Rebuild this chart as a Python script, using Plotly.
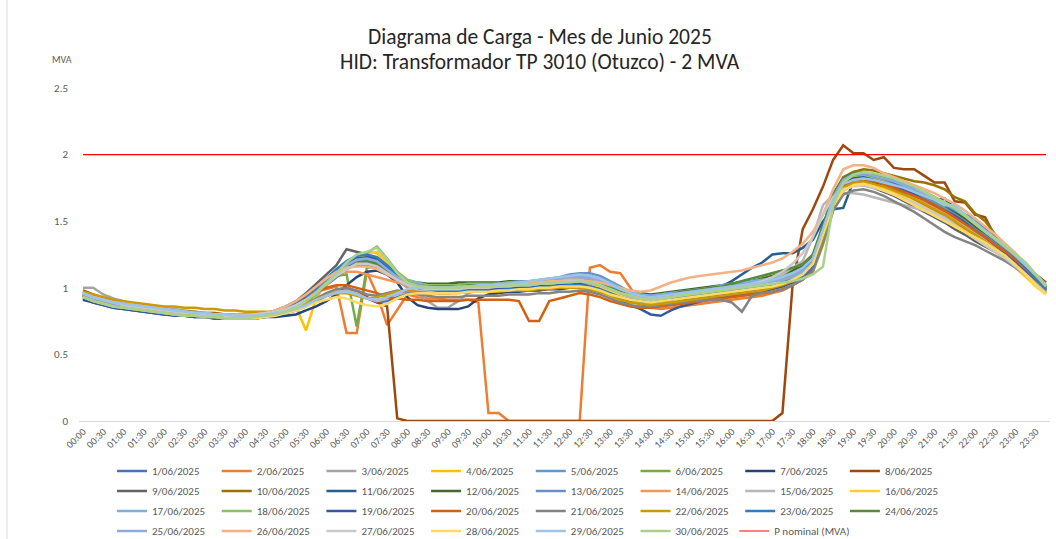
import plotly.graph_objects as go

# ---- categories (15-min steps) ----
times = [f"{h:02d}:{m:02d}" for h in range(24) for m in (0, 15, 30, 45)]
tick_labels = [t for t in times if t.endswith(":00") or t.endswith(":30")]

dates = [f"{d}/06/2025" for d in range(1, 31)]

colors = ["#4472C4", "#ED7D31", "#A5A5A5", "#FFC000", "#5B9BD5", "#70AD47",
          "#264478", "#9E480E", "#636363", "#997300", "#255E91", "#43682B",
          "#698ED0", "#F1975A", "#B7B7B7", "#FFCD33", "#7CAFDD", "#8CC168",
          "#335AA1", "#D26012", "#848484", "#CC9A00", "#327DC2", "#598A39",
          "#8FAADC", "#F4B183", "#C9C9C9", "#FFD966", "#9DC3E6", "#A9D18E"]

# ---- series values (MVA) ----
d01 = [0.92,0.90,0.88,0.86,0.85,0.84,0.83,0.82, 0.81,0.80,0.79,0.79,0.78,0.78,0.77,0.77,
       0.77,0.78,0.79,0.80,0.81,0.83,0.86,0.90, 0.94,0.97,0.98,0.96,0.92,0.89,0.90,0.93,
       0.96,0.97,0.97,0.96,0.96,0.97,0.97,0.98, 0.98,0.97,0.98,0.99,0.99,1.00,1.00,1.01,
       1.02,1.02,1.01,0.99,0.96,0.93,0.91,0.89, 0.88,0.89,0.90,0.92,0.93,0.94,0.95,0.96,
       0.97,0.98,0.99,1.00,1.01,1.03,1.06,1.10, 1.20,1.45,1.68,1.79,1.83,1.84,1.82,1.79,
       1.76,1.72,1.68,1.65,1.61,1.57,1.53,1.48, 1.43,1.37,1.32,1.26,1.20,1.13,1.06,0.99]
d02 = [0.96,0.93,0.90,0.88,0.87,0.86,0.85,0.84, 0.83,0.82,0.81,0.80,0.80,0.79,0.79,0.78,
       0.78,0.79,0.80,0.82,0.85,0.89,0.93,0.97, 0.99,1.01,0.66,0.66,1.12,0.95,0.72,0.84,
       0.95,0.93,0.92,0.92,0.91,0.91,0.91,0.89, 0.06,0.06,0.00,0.00,0.00,0.00,0.00,0.00,
       0.00,0.00,1.15,1.17,1.12,1.11,1.00,0.88, 0.85,0.84,0.85,0.86,0.87,0.88,0.89,0.90,
       0.91,0.92,0.93,0.94,0.96,0.98,1.02,1.08, 1.18,1.42,1.66,1.79,1.83,1.83,1.81,1.79,
       1.76,1.73,1.70,1.66,1.62,1.58,1.54,1.49, 1.44,1.39,1.33,1.27,1.21,1.14,1.07,0.99]
d03 = [1.00,1.00,0.95,0.92,0.90,0.88,0.87,0.86, 0.85,0.84,0.83,0.82,0.81,0.81,0.80,0.80,
       0.80,0.80,0.81,0.82,0.84,0.87,0.91,0.97, 1.04,1.10,1.15,1.18,1.19,1.17,1.12,1.06,
       1.00,0.97,0.90,0.85,0.85,0.90,0.96,0.98, 0.98,0.99,1.00,1.00,1.01,1.01,1.02,1.02,
       1.03,1.03,1.02,1.00,0.97,0.94,0.92,0.90, 0.89,0.90,0.91,0.92,0.94,0.95,0.96,0.97,
       0.98,0.99,1.00,1.01,1.02,1.04,1.06,1.09, 1.15,1.36,1.60,1.74,1.79,1.80,1.78,1.76,
       1.73,1.70,1.67,1.63,1.59,1.55,1.51,1.46, 1.41,1.36,1.31,1.25,1.19,1.12,1.05,0.98]
d04 = [0.94,0.91,0.89,0.87,0.86,0.85,0.84,0.83, 0.82,0.81,0.80,0.80,0.79,0.79,0.78,0.78,
       0.78,0.79,0.80,0.82,0.84,0.86,0.68,0.92, 1.04,1.12,1.18,1.24,1.27,1.26,1.18,1.10,
       1.04,1.00,0.98,0.97,0.97,0.97,0.98,0.98, 0.98,0.99,0.99,1.00,1.00,1.01,1.01,1.02,
       1.03,1.03,1.02,1.01,0.98,0.95,0.92,0.90, 0.89,0.90,0.91,0.93,0.94,0.95,0.96,0.97,
       0.98,0.99,1.00,1.01,1.02,1.03,1.05,1.08, 1.14,1.35,1.60,1.75,1.80,1.81,1.79,1.77,
       1.74,1.70,1.66,1.62,1.58,1.53,1.48,1.43, 1.38,1.33,1.28,1.22,1.16,1.10,1.03,0.96]
d05 = [0.97,0.94,0.91,0.89,0.88,0.87,0.86,0.85, 0.84,0.83,0.82,0.81,0.81,0.80,0.80,0.79,
       0.79,0.80,0.80,0.81,0.83,0.86,0.90,0.95, 1.02,1.09,1.16,1.20,1.21,1.19,1.13,1.07,
       1.03,1.01,1.00,0.99,0.99,1.00,1.00,1.01, 1.01,1.02,1.02,1.03,1.03,1.04,1.05,1.06,
       1.07,1.08,1.07,1.05,1.02,0.98,0.95,0.93, 0.92,0.93,0.94,0.96,0.97,0.98,0.99,1.00,
       1.01,1.02,1.03,1.04,1.05,1.06,1.08,1.11, 1.18,1.42,1.68,1.82,1.86,1.86,1.84,1.82,
       1.79,1.76,1.73,1.69,1.66,1.62,1.57,1.52, 1.46,1.40,1.35,1.29,1.23,1.16,1.09,1.01]
d06 = [0.94,0.91,0.89,0.87,0.86,0.85,0.84,0.83, 0.82,0.81,0.80,0.79,0.79,0.78,0.78,0.77,
       0.77,0.78,0.79,0.81,0.83,0.86,0.90,0.96, 1.03,1.09,1.10,0.71,1.15,1.16,1.12,1.07,
       1.03,1.02,1.01,1.01,1.01,1.01,1.02,1.02, 1.02,1.02,1.03,1.03,1.03,1.04,1.04,1.04,
       1.05,1.05,1.04,1.03,1.01,0.98,0.96,0.94, 0.93,0.94,0.95,0.97,0.98,0.99,1.00,1.01,
       1.03,1.04,1.05,1.06,1.08,1.10,1.12,1.15, 1.22,1.44,1.68,1.80,1.84,1.85,1.83,1.81,
       1.78,1.75,1.72,1.68,1.64,1.60,1.56,1.51, 1.46,1.40,1.34,1.28,1.22,1.15,1.08,1.01]
d07 = [0.91,0.89,0.87,0.85,0.84,0.83,0.82,0.81, 0.80,0.80,0.79,0.78,0.78,0.77,0.77,0.77,
       0.77,0.77,0.78,0.78,0.79,0.80,0.83,0.86, 0.90,0.95,1.02,1.08,1.12,1.13,1.10,1.04,
       0.93,0.87,0.85,0.84,0.84,0.84,0.86,0.92, 0.95,0.96,0.97,0.97,0.98,0.98,0.99,0.99,
       1.00,1.00,0.99,0.97,0.95,0.92,0.90,0.88, 0.86,0.87,0.88,0.90,0.91,0.92,0.93,0.94,
       0.95,0.96,0.97,0.98,1.00,1.02,1.05,1.09, 1.17,1.40,1.65,1.77,1.81,1.81,1.79,1.77,
       1.74,1.71,1.67,1.63,1.59,1.55,1.50,1.45, 1.40,1.35,1.30,1.24,1.18,1.11,1.04,0.97]
d08 = [0.98,0.95,0.92,0.89,0.87,0.86,0.85,0.84, 0.83,0.82,0.81,0.80,0.80,0.79,0.79,0.78,
       0.78,0.78,0.79,0.80,0.82,0.84,0.87,0.91, 0.94,0.96,0.98,0.97,0.93,0.89,0.86,0.02,
       0.00,0.00,0.00,0.00,0.00,0.00,0.00,0.00, 0.00,0.00,0.00,0.00,0.00,0.00,0.00,0.00,
       0.00,0.00,0.00,0.00,0.00,0.00,0.00,0.00, 0.00,0.00,0.00,0.00,0.00,0.00,0.00,0.00,
       0.00,0.00,0.00,0.00,0.00,0.06,1.02,1.44, 1.59,1.76,1.96,2.07,2.01,2.01,1.96,1.98,
       1.90,1.89,1.89,1.84,1.79,1.79,1.65,1.64, 1.55,1.53,1.38,1.32,1.24,1.17,1.10,1.04]
d09 = [0.95,0.92,0.90,0.88,0.87,0.86,0.85,0.84, 0.83,0.82,0.81,0.81,0.80,0.80,0.79,0.79,
       0.79,0.80,0.81,0.83,0.86,0.90,0.96,1.03, 1.10,1.17,1.29,1.27,1.25,1.18,1.10,1.05,
       1.02,1.00,0.99,0.99,0.98,0.98,0.99,0.99, 0.99,1.00,1.00,1.01,1.01,1.01,1.02,1.02,
       1.03,1.03,1.02,1.00,0.97,0.94,0.92,0.90, 0.89,0.90,0.91,0.92,0.93,0.94,0.95,0.96,
       0.97,0.98,0.99,1.00,1.01,1.03,1.05,1.08, 1.14,1.36,1.60,1.73,1.77,1.77,1.75,1.72,
       1.69,1.65,1.61,1.57,1.53,1.49,1.44,1.40, 1.35,1.31,1.27,1.22,1.17,1.11,1.05,0.98]
d10 = [0.96,0.93,0.91,0.89,0.88,0.87,0.86,0.85, 0.84,0.83,0.82,0.82,0.81,0.81,0.80,0.80,
       0.80,0.80,0.81,0.82,0.84,0.87,0.91,0.96, 1.02,1.08,1.14,1.18,1.19,1.17,1.11,1.06,
       1.02,1.00,0.99,0.99,0.99,0.99,1.00,1.00, 1.00,1.01,1.01,1.02,1.02,1.02,1.03,1.03,
       1.04,1.04,1.03,1.01,0.98,0.96,0.94,0.92, 0.92,0.93,0.94,0.96,0.97,0.98,0.99,1.00,
       1.01,1.02,1.03,1.04,1.06,1.08,1.10,1.13, 1.20,1.45,1.70,1.83,1.87,1.89,1.88,1.86,
       1.84,1.82,1.80,1.79,1.77,1.74,1.68,1.65, 1.56,1.50,1.40,1.32,1.25,1.16,1.08,1.00]
d11 = [0.93,0.90,0.88,0.86,0.85,0.84,0.83,0.82, 0.81,0.80,0.80,0.79,0.79,0.78,0.78,0.78,
       0.78,0.78,0.79,0.81,0.84,0.88,0.93,0.99, 1.06,1.13,1.19,1.23,1.24,1.22,1.16,1.09,
       1.04,1.01,1.00,0.99,0.99,0.99,0.99,1.00, 1.00,1.00,1.01,1.01,1.02,1.02,1.03,1.03,
       1.04,1.04,1.03,1.01,0.98,0.95,0.93,0.91, 0.90,0.91,0.92,0.94,0.95,0.97,0.99,1.01,
       1.05,1.10,1.15,1.19,1.25,1.26,1.26,1.30, 1.36,1.50,1.59,1.60,1.80,1.86,1.85,1.83,
       1.80,1.77,1.73,1.70,1.66,1.67,1.60,1.53, 1.47,1.41,1.35,1.29,1.23,1.16,1.08,1.00]
d12 = [0.95,0.92,0.90,0.88,0.87,0.86,0.85,0.84, 0.83,0.82,0.81,0.80,0.80,0.79,0.79,0.79,
       0.79,0.79,0.80,0.82,0.84,0.87,0.91,0.97, 1.04,1.10,1.15,1.17,1.17,1.15,1.12,1.08,
       1.05,1.04,1.03,1.03,1.03,1.04,1.04,1.04, 1.04,1.04,1.05,1.05,1.05,1.05,1.06,1.06,
       1.06,1.06,1.05,1.04,1.02,0.99,0.97,0.96, 0.95,0.96,0.97,0.98,0.99,1.00,1.01,1.02,
       1.03,1.04,1.05,1.07,1.09,1.11,1.13,1.16, 1.24,1.46,1.70,1.82,1.86,1.86,1.84,1.82,
       1.80,1.77,1.74,1.70,1.66,1.62,1.57,1.52, 1.46,1.40,1.34,1.28,1.22,1.15,1.08,1.01]
d13 = [0.94,0.91,0.89,0.87,0.86,0.85,0.84,0.83, 0.82,0.81,0.80,0.80,0.79,0.79,0.78,0.78,
       0.78,0.79,0.80,0.81,0.83,0.86,0.90,0.95, 1.02,1.08,1.14,1.18,1.19,1.18,1.13,1.07,
       1.03,1.01,1.00,1.00,1.00,1.01,1.01,1.02, 1.02,1.03,1.04,1.05,1.05,1.06,1.07,1.08,
       1.10,1.11,1.11,1.09,1.05,1.01,0.97,0.95, 0.94,0.95,0.96,0.97,0.98,0.99,1.00,1.01,
       1.02,1.03,1.04,1.05,1.06,1.07,1.09,1.12, 1.20,1.42,1.66,1.79,1.83,1.84,1.82,1.80,
       1.77,1.74,1.71,1.67,1.63,1.59,1.55,1.50, 1.44,1.39,1.33,1.27,1.21,1.14,1.07,1.00]
d14 = [0.96,0.93,0.91,0.89,0.87,0.86,0.85,0.84, 0.83,0.82,0.81,0.80,0.80,0.79,0.79,0.79,
       0.79,0.79,0.80,0.82,0.85,0.89,0.94,1.00, 1.06,1.10,1.12,1.12,1.10,1.08,1.06,1.04,
       1.02,1.00,0.99,0.98,0.98,0.98,0.98,0.99, 0.99,1.00,1.00,1.01,1.01,1.02,1.02,1.03,
       1.03,1.03,1.02,1.00,0.97,0.94,0.92,0.90, 0.89,0.90,0.91,0.93,0.94,0.95,0.96,0.97,
       0.98,0.99,1.00,1.01,1.02,1.04,1.07,1.11, 1.19,1.43,1.67,1.79,1.83,1.83,1.81,1.78,
       1.75,1.72,1.68,1.64,1.60,1.56,1.51,1.46, 1.41,1.36,1.30,1.25,1.19,1.12,1.05,0.98]
d15 = [0.97,0.94,0.91,0.89,0.88,0.87,0.86,0.85, 0.84,0.83,0.82,0.81,0.81,0.80,0.80,0.79,
       0.79,0.79,0.80,0.81,0.82,0.84,0.87,0.91, 0.95,0.97,0.98,0.96,0.92,0.90,0.92,0.95,
       0.97,0.98,0.98,0.98,0.97,0.98,0.98,0.99, 0.99,0.99,1.00,1.00,1.00,1.01,1.01,1.02,
       1.03,1.03,1.02,1.00,0.97,0.94,0.92,0.91, 0.90,0.91,0.92,0.93,0.95,0.96,0.97,0.98,
       0.99,1.00,1.01,1.03,1.06,1.10,1.15,1.20, 1.38,1.62,1.70,1.71,1.71,1.70,1.68,1.66,
       1.64,1.62,1.60,1.58,1.56,1.53,1.50,1.46, 1.41,1.36,1.31,1.25,1.19,1.13,1.06,0.99]
d16 = [0.93,0.90,0.88,0.86,0.85,0.84,0.83,0.82, 0.81,0.80,0.79,0.79,0.78,0.78,0.77,0.77,
       0.77,0.78,0.79,0.80,0.82,0.85,0.89,0.95, 1.02,1.10,1.17,1.22,1.25,1.27,1.20,1.12,
       1.05,1.01,0.99,0.98,0.97,0.97,0.97,0.97, 0.97,0.98,0.98,0.99,0.99,1.00,1.00,1.01,
       1.02,1.02,1.01,1.00,0.97,0.94,0.91,0.89, 0.88,0.89,0.90,0.92,0.93,0.94,0.95,0.96,
       0.97,0.98,0.99,1.00,1.01,1.02,1.04,1.07, 1.12,1.32,1.58,1.73,1.78,1.79,1.77,1.75,
       1.72,1.68,1.64,1.60,1.56,1.51,1.46,1.42, 1.37,1.32,1.27,1.21,1.15,1.08,1.01,0.95]
d17 = [0.96,0.93,0.91,0.89,0.88,0.87,0.86,0.85, 0.84,0.83,0.82,0.81,0.81,0.80,0.80,0.79,
       0.79,0.80,0.81,0.82,0.84,0.87,0.91,0.97, 1.04,1.11,1.17,1.21,1.22,1.20,1.15,1.10,
       1.06,1.04,1.02,1.01,1.00,1.00,1.01,1.01, 1.02,1.02,1.03,1.03,1.04,1.05,1.06,1.07,
       1.08,1.09,1.09,1.07,1.04,1.00,0.97,0.95, 0.94,0.95,0.96,0.97,0.98,0.99,1.00,1.02,
       1.03,1.04,1.05,1.06,1.07,1.08,1.10,1.13, 1.18,1.40,1.66,1.80,1.85,1.86,1.85,1.83,
       1.80,1.77,1.74,1.71,1.68,1.64,1.60,1.55, 1.49,1.43,1.37,1.31,1.24,1.17,1.09,1.01]
d18 = [0.94,0.91,0.89,0.87,0.86,0.85,0.84,0.83, 0.82,0.81,0.80,0.79,0.79,0.78,0.78,0.78,
       0.78,0.78,0.79,0.80,0.82,0.85,0.89,0.95, 1.02,1.10,1.18,1.23,1.26,1.31,1.22,1.12,
       1.06,1.03,1.02,1.02,1.02,1.02,1.03,1.03, 1.03,1.03,1.04,1.04,1.04,1.05,1.05,1.05,
       1.06,1.06,1.05,1.03,1.00,0.97,0.95,0.93, 0.92,0.93,0.94,0.96,0.97,0.98,0.99,1.00,
       1.01,1.02,1.03,1.04,1.05,1.06,1.08,1.11, 1.16,1.38,1.64,1.78,1.83,1.84,1.83,1.81,
       1.79,1.76,1.73,1.70,1.67,1.63,1.59,1.54, 1.48,1.42,1.36,1.30,1.24,1.17,1.10,1.02]
d19 = [0.92,0.89,0.87,0.85,0.84,0.83,0.82,0.81, 0.80,0.79,0.79,0.78,0.78,0.77,0.77,0.77,
       0.77,0.77,0.78,0.80,0.82,0.85,0.90,0.96, 1.04,1.11,1.18,1.22,1.23,1.21,1.15,1.08,
       1.03,1.00,0.99,0.98,0.98,0.98,0.98,0.99, 0.99,0.99,1.00,1.00,1.01,1.01,1.02,1.02,
       1.03,1.03,1.01,0.99,0.95,0.91,0.87,0.84, 0.80,0.79,0.83,0.86,0.88,0.90,0.92,0.93,
       0.94,0.95,0.96,0.97,0.99,1.01,1.04,1.08, 1.15,1.38,1.64,1.78,1.82,1.83,1.81,1.79,
       1.76,1.73,1.70,1.66,1.62,1.58,1.54,1.49, 1.43,1.38,1.32,1.26,1.20,1.13,1.06,0.98]
d20 = [0.95,0.92,0.89,0.87,0.86,0.85,0.84,0.83, 0.82,0.81,0.80,0.80,0.79,0.79,0.78,0.78,
       0.78,0.79,0.80,0.82,0.85,0.89,0.93,0.97, 1.00,1.02,1.02,1.00,0.98,0.96,0.93,0.92,
       0.91,0.91,0.90,0.90,0.90,0.90,0.91,0.91, 0.91,0.91,0.91,0.90,0.75,0.75,0.90,0.92,
       0.94,0.96,0.95,0.93,0.90,0.88,0.86,0.85, 0.85,0.86,0.87,0.88,0.89,0.90,0.91,0.92,
       0.93,0.94,0.95,0.96,0.97,0.99,1.02,1.06, 1.13,1.36,1.62,1.76,1.81,1.82,1.80,1.78,
       1.75,1.72,1.69,1.66,1.62,1.58,1.53,1.48, 1.43,1.38,1.32,1.27,1.21,1.14,1.07,1.00]
d21 = [0.94,0.91,0.89,0.87,0.86,0.85,0.84,0.83, 0.82,0.81,0.80,0.80,0.79,0.79,0.78,0.78,
       0.78,0.79,0.80,0.81,0.83,0.85,0.88,0.92, 0.96,0.99,1.00,0.98,0.95,0.94,0.96,0.98,
       0.97,0.95,0.94,0.93,0.93,0.93,0.94,0.94, 0.94,0.94,0.95,0.95,0.95,0.96,0.96,0.97,
       0.97,0.98,0.97,0.95,0.92,0.89,0.87,0.86, 0.86,0.87,0.88,0.89,0.90,0.90,0.91,0.91,
       0.89,0.82,0.94,0.96,0.97,0.99,1.02,1.06, 1.12,1.33,1.58,1.70,1.73,1.74,1.72,1.69,
       1.65,1.61,1.57,1.52,1.47,1.42,1.38,1.35, 1.32,1.28,1.24,1.20,1.15,1.10,1.04,0.98]
d22 = [0.97,0.95,0.93,0.91,0.90,0.89,0.88,0.87, 0.86,0.86,0.85,0.85,0.84,0.84,0.83,0.83,
       0.82,0.82,0.82,0.82,0.83,0.85,0.88,0.91, 0.94,0.96,0.96,0.94,0.92,0.93,0.95,0.97,
       0.98,0.97,0.96,0.96,0.96,0.96,0.97,0.97, 0.97,0.97,0.98,0.98,0.98,0.99,0.99,1.00,
       1.00,1.00,0.99,0.97,0.94,0.91,0.89,0.88, 0.87,0.88,0.89,0.90,0.91,0.92,0.93,0.94,
       0.95,0.96,0.97,0.98,1.00,1.02,1.05,1.09, 1.16,1.38,1.62,1.75,1.79,1.80,1.78,1.76,
       1.73,1.70,1.67,1.63,1.59,1.55,1.50,1.45, 1.40,1.35,1.29,1.23,1.17,1.10,1.03,0.96]
d23 = [0.95,0.92,0.90,0.88,0.87,0.86,0.85,0.84, 0.83,0.82,0.81,0.80,0.80,0.79,0.79,0.79,
       0.79,0.79,0.80,0.82,0.85,0.89,0.94,1.00, 1.07,1.14,1.20,1.24,1.25,1.23,1.17,1.10,
       1.04,1.01,0.99,0.98,0.98,0.98,0.98,0.98, 0.98,0.98,0.99,0.99,1.00,1.00,1.01,1.01,
       1.02,1.02,1.01,0.99,0.96,0.93,0.91,0.90, 0.89,0.90,0.91,0.93,0.94,0.95,0.96,0.97,
       0.98,0.99,1.00,1.01,1.02,1.04,1.06,1.09, 1.16,1.40,1.66,1.81,1.86,1.86,1.84,1.82,
       1.79,1.76,1.73,1.69,1.66,1.62,1.58,1.55, 1.52,1.44,1.37,1.30,1.23,1.15,1.07,0.99]
d24 = [0.94,0.91,0.89,0.87,0.86,0.85,0.84,0.83, 0.82,0.81,0.80,0.80,0.79,0.79,0.78,0.78,
       0.78,0.79,0.80,0.82,0.84,0.87,0.91,0.97, 1.04,1.10,1.16,1.19,1.20,1.18,1.13,1.08,
       1.04,1.02,1.01,1.01,1.01,1.01,1.02,1.02, 1.02,1.03,1.03,1.03,1.04,1.04,1.05,1.05,
       1.06,1.06,1.05,1.03,1.00,0.97,0.95,0.94, 0.93,0.94,0.95,0.97,0.98,0.99,1.00,1.01,
       1.03,1.05,1.07,1.09,1.11,1.13,1.15,1.18, 1.25,1.47,1.70,1.82,1.86,1.87,1.85,1.83,
       1.81,1.78,1.75,1.72,1.68,1.64,1.60,1.55, 1.49,1.43,1.37,1.31,1.24,1.17,1.09,1.01]
d25 = [0.95,0.92,0.90,0.88,0.87,0.86,0.85,0.84, 0.83,0.82,0.81,0.81,0.80,0.80,0.79,0.79,
       0.79,0.80,0.81,0.82,0.84,0.87,0.91,0.97, 1.04,1.11,1.17,1.21,1.22,1.20,1.14,1.08,
       1.04,1.02,1.01,1.00,1.00,1.00,1.01,1.01, 1.01,1.02,1.02,1.03,1.03,1.04,1.05,1.06,
       1.07,1.08,1.07,1.05,1.02,0.99,0.96,0.94, 0.93,0.94,0.95,0.96,0.97,0.98,0.99,1.00,
       1.01,1.02,1.03,1.04,1.05,1.06,1.08,1.11, 1.18,1.42,1.68,1.81,1.85,1.86,1.84,1.82,
       1.80,1.77,1.74,1.71,1.67,1.63,1.59,1.54, 1.48,1.42,1.36,1.30,1.24,1.17,1.09,1.01]
d26 = [0.96,0.93,0.91,0.89,0.88,0.87,0.86,0.85, 0.84,0.83,0.82,0.81,0.81,0.80,0.80,0.80,
       0.80,0.80,0.81,0.83,0.86,0.90,0.95,1.01, 1.07,1.12,1.15,1.16,1.16,1.14,1.10,1.06,
       1.03,1.01,1.00,1.00,1.00,1.00,1.01,1.01, 1.02,1.02,1.03,1.03,1.04,1.04,1.05,1.05,
       1.06,1.06,1.05,1.04,1.02,1.00,0.98,0.97, 0.98,1.01,1.04,1.06,1.08,1.09,1.10,1.11,
       1.12,1.13,1.15,1.17,1.19,1.22,1.27,1.33, 1.42,1.55,1.74,1.89,1.92,1.92,1.90,1.86,
       1.83,1.80,1.77,1.74,1.71,1.67,1.63,1.58, 1.52,1.46,1.40,1.33,1.26,1.18,1.10,1.02]
d27 = [0.96,0.93,0.91,0.89,0.87,0.86,0.85,0.84, 0.83,0.82,0.81,0.81,0.80,0.80,0.79,0.79,
       0.79,0.80,0.81,0.82,0.84,0.87,0.91,0.96, 1.03,1.09,1.14,1.18,1.18,1.16,1.11,1.06,
       1.02,1.00,0.99,0.99,0.99,0.99,1.00,1.00, 1.00,1.01,1.01,1.02,1.02,1.03,1.03,1.04,
       1.05,1.05,1.04,1.02,0.99,0.96,0.94,0.92, 0.91,0.92,0.93,0.95,0.96,0.97,0.98,0.99,
       1.00,1.01,1.03,1.05,1.08,1.12,1.18,1.26, 1.38,1.55,1.68,1.74,1.76,1.77,1.75,1.73,
       1.70,1.67,1.64,1.60,1.56,1.52,1.47,1.42, 1.37,1.32,1.27,1.22,1.16,1.10,1.03,0.96]
d28 = [0.93,0.90,0.88,0.86,0.85,0.84,0.83,0.82, 0.81,0.80,0.79,0.79,0.78,0.78,0.77,0.77,
       0.77,0.77,0.78,0.79,0.81,0.83,0.86,0.89, 0.91,0.93,0.92,0.89,0.87,0.86,0.88,0.92,
       0.95,0.96,0.96,0.96,0.96,0.96,0.97,0.97, 0.97,0.98,0.98,0.99,0.99,1.00,1.00,1.01,
       1.01,1.01,1.00,0.98,0.95,0.93,0.91,0.90, 0.89,0.90,0.91,0.92,0.93,0.94,0.95,0.96,
       0.97,0.98,0.99,1.00,1.01,1.03,1.06,1.10, 1.18,1.40,1.62,1.73,1.77,1.78,1.76,1.73,
       1.70,1.66,1.62,1.58,1.54,1.50,1.46,1.42, 1.38,1.34,1.29,1.24,1.17,1.10,1.02,0.95]
d29 = [0.96,0.93,0.91,0.89,0.88,0.87,0.86,0.85, 0.84,0.83,0.82,0.81,0.81,0.80,0.80,0.79,
       0.79,0.79,0.80,0.81,0.82,0.84,0.87,0.91, 0.94,0.96,0.97,0.95,0.92,0.91,0.93,0.96,
       0.99,1.00,1.00,1.00,1.00,1.01,1.01,1.02, 1.02,1.03,1.03,1.04,1.05,1.06,1.07,1.08,
       1.09,1.10,1.09,1.07,1.03,0.99,0.96,0.94, 0.93,0.94,0.95,0.96,0.97,0.98,0.99,1.00,
       1.01,1.02,1.03,1.04,1.06,1.08,1.11,1.15, 1.22,1.44,1.66,1.78,1.81,1.82,1.81,1.79,
       1.77,1.75,1.72,1.69,1.66,1.62,1.62,1.55, 1.49,1.43,1.37,1.31,1.24,1.17,1.10,1.02]
d30 = [0.93,0.90,0.88,0.86,0.85,0.84,0.83,0.82, 0.81,0.80,0.79,0.79,0.78,0.78,0.77,0.77,
       0.77,0.78,0.79,0.80,0.82,0.85,0.90,0.96, 1.03,1.11,1.19,1.25,1.27,1.30,1.21,1.11,
       1.04,1.01,1.00,1.00,1.00,1.00,1.01,1.01, 1.01,1.01,1.02,1.02,1.02,1.03,1.03,1.04,
       1.04,1.05,1.04,1.02,0.99,0.96,0.94,0.92, 0.91,0.92,0.93,0.94,0.95,0.96,0.97,0.98,
       0.99,1.00,1.01,1.02,1.03,1.04,1.05,1.07, 1.10,1.16,1.62,1.79,1.85,1.87,1.86,1.84,
       1.82,1.79,1.76,1.72,1.68,1.64,1.60,1.54, 1.48,1.42,1.37,1.31,1.25,1.19,1.10,1.01]

series = [d01, d02, d03, d04, d05, d06, d07, d08, d09, d10, d11, d12, d13, d14, d15,
          d16, d17, d18, d19, d20, d21, d22, d23, d24, d25, d26, d27, d28, d29, d30]

p_nominal = 2.0

FONT = "Calibri, Carlito, Lato, sans-serif"
x_idx = list(range(len(times)))

fig = go.Figure()
legend_rows = ["legend", "legend2", "legend3", "legend4"]
for k, (name, vals, col) in enumerate(zip(dates, series, colors)):
    fig.add_trace(go.Scatter(
        x=x_idx, y=vals, mode="lines", name=name,
        line=dict(color=col, width=2.5),
        customdata=times, hovertemplate="%{customdata}: %{y:.2f} MVA<extra>" + name + "</extra>",
        legend=legend_rows[k // 8],
    ))
fig.add_trace(go.Scatter(
    x=x_idx, y=[p_nominal] * len(times), mode="lines", name="P nominal (MVA)",
    line=dict(color="#FF0000", width=1.2), legend="legend5",
))

# geometry helpers (pixel -> paper)
L, R, T, B = 79, 6, 88, 118
W, H = 1056, 539
pw, ph = W - L - R, H - T - B
def px(xp): return (xp - L) / pw
def py(yp): return (H - B - yp) / ph

COLW = 103.7
leg_common = dict(orientation="h", xanchor="left", yanchor="middle",
                  font=dict(family=FONT, size=11, color="#595959"),
                  entrywidth=COLW - 44, entrywidthmode="pixels", itemwidth=30,
                  bgcolor="rgba(0,0,0,0)", borderwidth=0, tracegroupgap=0)
row_y = [471, 491, 511, 531]
LEG_X = 112

fig.update_layout(
    width=W, height=H,
    margin=dict(l=L, r=R, t=T, b=B, autoexpand=False),
    paper_bgcolor="white", plot_bgcolor="white",
    font=dict(family=FONT, color="#595959"),
    xaxis=dict(range=[-0.395, 95.395], tickmode="array", automargin=False,
               tickvals=[i for i in x_idx if i % 2 == 0], ticktext=tick_labels,
               tickangle=-45, tickfont=dict(family=FONT, size=10, color="#595959"),
               showgrid=False, zeroline=False, showline=True, linecolor="#D9D9D9", linewidth=1,
               ticks="", fixedrange=True),
    yaxis=dict(range=[0, 2.5], tickvals=[0, 0.5, 1, 1.5, 2, 2.5], automargin=False,
               ticktext=["0", "0.5", "1", "1.5", "2", "2.5"],
               tickfont=dict(family=FONT, size=11, color="#595959"),
               showgrid=False, zeroline=False, showline=False, ticks="",
               ticklabelstandoff=10, fixedrange=True),
    showlegend=True,
    legend=dict(x=px(LEG_X), y=py(row_y[0]), **leg_common),
    legend2=dict(x=px(LEG_X), y=py(row_y[1]), **leg_common),
    legend3=dict(x=px(LEG_X), y=py(row_y[2]), **leg_common),
    legend4=dict(x=px(LEG_X), y=py(row_y[3]), **leg_common),
    legend5=dict(x=px(LEG_X + 6 * COLW), y=py(row_y[3]),
                 **{k: v for k, v in leg_common.items() if k not in ("entrywidth", "entrywidthmode")}),
    annotations=[
        dict(text="Diagrama de Carga - Mes de Junio 2025", x=px(540), y=py(37),
             xref="paper", yref="paper", showarrow=False, xanchor="center", yanchor="middle",
             font=dict(family=FONT, size=21.5, color="#262626")),
        dict(text="HID: Transformador TP 3010 (Otuzco) - 2 MVA", x=px(540), y=py(62),
             xref="paper", yref="paper", showarrow=False, xanchor="center", yanchor="middle",
             font=dict(family=FONT, size=21.5, color="#262626")),
        dict(text="MVA", x=px(62), y=py(59), xref="paper", yref="paper",
             xanchor="center", yanchor="middle",
             showarrow=False, font=dict(family=FONT, size=10, color="#595959")),
    ],
    shapes=[dict(type="line", xref="paper", yref="paper", x0=px(7), x1=px(7), y0=py(0), y1=py(H),
                 line=dict(color="#D9D9D9", width=1))],
)

# remove the default page margin so the figure fills the 1056x539 window exactly
fig.write_html("out.html",
               config={"displayModeBar": False},
               post_script="document.documentElement.style.margin='0';"
                           "document.body.style.margin='0';"
                           "document.body.style.overflow='hidden';")
